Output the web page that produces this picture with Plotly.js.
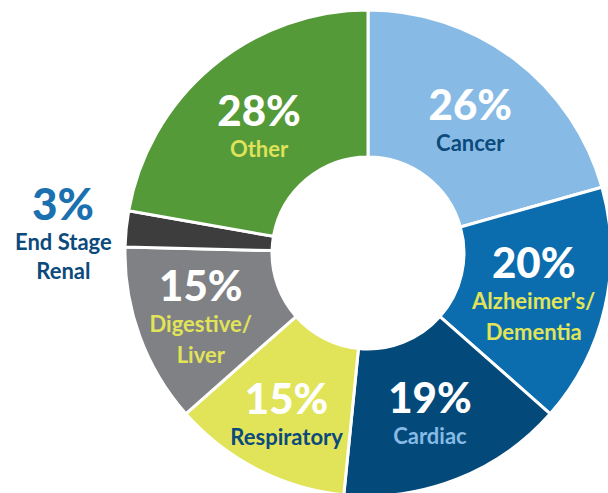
<!DOCTYPE html>
<html>
<head>
<meta charset="utf-8">
<script src="https://cdn.plot.ly/plotly-3.0.1.min.js"></script>
<style>
html,body{margin:0;padding:0;overflow:hidden;background:#fff;}
#chart{width:620px;height:505px;}
</style>
</head>
<body>
<div id="chart"></div>
<script>
const categories = ["Cancer", "Alzheimer's/<br>Dementia", "Cardiac", "Respiratory", "Digestive/<br>Liver", "End Stage<br>Renal", "Other"];
const values = [26, 20, 19, 15, 15, 3, 28];
const sliceColors = ["#87bbe5", "#0b6dad", "#034a7a", "#e1e458", "#808184", "#3d3d3e", "#559a39"];
const pctColors = ["#ffffff", "#ffffff", "#ffffff", "#ffffff", "#ffffff", "#1b70b0", "#ffffff"];
const labelColors = ["#0c4a7c", "#e1e458", "#87bbe5", "#0c4a7c", "#e1e458", "#0c4a7c", "#dfe25a"];
const outsideIndex = 5; // "End Stage Renal" is labelled outside the ring

const W = 620, H = 505;
const domX = [125 / W, 611 / W];
const domY = [9 / H, 495 / H];
const FONT = 'Lato, "Open Sans", sans-serif';
const BASE = 24;

const texts = values.map((v, i) => i === outsideIndex ? '' :
  '<span style="font-size:42px;font-weight:900;color:' + pctColors[i] + '">' + v + '%</span><br>' +
  '<span style="font-size:22px;font-weight:bold;color:' + labelColors[i] + '">' + categories[i] + '</span>'
);
const positions = values.map((v, i) => i === outsideIndex ? 'none' : 'inside');

// geometry of the outside label, derived from the slice's own angle
const total = values.reduce((a, b) => a + b, 0);
const before = values.slice(0, outsideIndex).reduce((a, b) => a + b, 0);
const theta = 2 * Math.PI * (before + values[outsideIndex] / 2) / total;
const R = Math.min(W * (domX[1] - domX[0]), H * (domY[1] - domY[0])) / 2;
const cxPx = W * (domX[0] + domX[1]) / 2;
const cyPx = H * (1 - (domY[0] + domY[1]) / 2);
const rLab = 1.26 * R;
const lx = (cxPx + rLab * Math.sin(theta)) / W;
const ly = 1 - (cyPx - rLab * Math.cos(theta)) / H;

const trace = {
  type: 'pie',
  labels: categories,
  values: values,
  text: texts,
  textinfo: 'text',
  textposition: positions,
  insidetextorientation: 'horizontal',
  sort: false,
  direction: 'clockwise',
  rotation: 0,
  hole: 0.395,
  marker: {colors: sliceColors, line: {color: '#ffffff', width: 3}},
  textfont: {family: FONT, size: BASE, weight: 'bold'},
  hoverinfo: 'none',
  showlegend: false,
  domain: {x: domX, y: domY}
};

const layout = {
  width: W,
  height: H,
  margin: {l: 0, r: 0, t: 0, b: 0},
  paper_bgcolor: '#ffffff',
  showlegend: false,
  uniformtext: {mode: 'show', minsize: BASE},
  annotations: [
    {
      xref: 'paper', yref: 'paper', x: lx, y: ly, showarrow: false,
      xanchor: 'center', yanchor: 'middle', yshift: 20,
      text: values[outsideIndex] + '%',
      font: {family: FONT, size: 44, weight: 900, color: pctColors[outsideIndex]}
    },
    {
      xref: 'paper', yref: 'paper', x: lx, y: ly, showarrow: false,
      xanchor: 'center', yanchor: 'middle', yshift: -33,
      text: categories[outsideIndex],
      font: {family: FONT, size: 22, weight: 'bold', color: labelColors[outsideIndex]}
    }
  ]
};

Plotly.newPlot('chart', [trace], layout, {staticPlot: true, displayModeBar: false});
</script>
</body>
</html>
